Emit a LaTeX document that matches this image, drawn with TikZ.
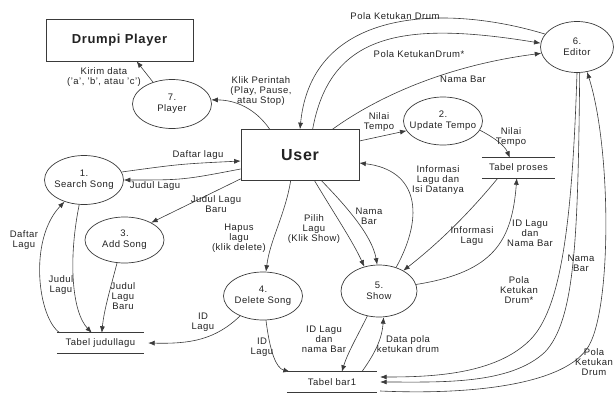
\documentclass[tikz,border=0pt]{standalone}
\usepackage{fontspec}
\setmainfont{Liberation Sans}[LetterSpace=5]
\usetikzlibrary{arrows.meta,shapes.geometric}
\definecolor{ln}{HTML}{3A3A3A}
\definecolor{tx}{HTML}{222222}
\newcommand\dfdfont{\fontsize{9.5}{9.8}\selectfont}
\newcommand\procfont{\fontsize{9.5}{11}\selectfont}
\tikzset{
  proc/.style={ellipse, draw=ln, line width=0.7pt, minimum width=79pt, minimum height=49pt,
    inner xsep=-10pt, inner ysep=-6pt, align=center, text=tx, font=\procfont},
  ext/.style={rectangle, draw=ln, line width=0.7pt, text=tx},
  store/.style={inner sep=0pt, minimum height=20pt, text=tx, font=\dfdfont},
  storeline/.style={draw=ln, line width=0.7pt},
  flow/.style={draw=ln, line width=0.6pt, -{Latex[length=6.5pt,width=5pt]}},
  lab/.style={align=center, inner sep=0pt, text=tx, font=\dfdfont},
}
\begin{document}
\begin{tikzpicture}[x=1pt,y=-1pt]
\useasboundingbox (0,0) rectangle (614,394);

% external entities
\node[ext, minimum width=147pt, minimum height=42pt, font=\bfseries\fontsize{13}{15}\selectfont] (drumpi) at (119.5,40) {Drumpi Player};
\node[ext, minimum width=118pt, minimum height=51pt, font=\bfseries\fontsize{16}{18}\selectfont] (user) at (300,155) {User};

% processes
\node[proc] (p7) at (172,104) {7.\\Player};
\node[proc] (p1) at (84,180) {1.\\Search Song};
\node[proc, minimum height=46pt] (p3) at (124.5,240) {3.\\Add Song};
\node[proc, minimum height=48pt] (p4) at (263,296) {4.\\Delete Song};
\node[proc, minimum width=76pt, minimum height=52pt] (p5) at (379,291) {5.\\Show};
\node[proc, minimum height=48pt] (p2) at (443,121) {2.\\Update Tempo};
\node[proc, minimum width=73pt, minimum height=51pt] (p6) at (577,47) {6.\\Editor};

% data stores
\node[store, minimum width=73pt] (tp) at (518.5,168) {Tabel proses};
\node[store, minimum width=87pt] (jl) at (100.5,343) {Tabel judullagu};
\node[store, minimum width=90pt] (tb) at (332,382) {Tabel bar1};
\foreach \s in {tp,jl,tb}{
  \draw[storeline] (\s.north west) -- (\s.north east) (\s.south west) -- (\s.south east);
}

% flows
\draw[flow] (p7.131) -- ([xshift=91pt]drumpi.south west);
\node[lab] (l1) at (104,77) {Kirim data\\('a', 'b', atau 'c')};

\draw[flow] ([xshift=29pt]user.north west) .. controls (255,108) and (235,100) .. (p7.6);
\node[lab] (l2) at (261,91) {Klik Perintah\\(Play, Pause,\\atau Stop)};

\draw[flow] (p1.12) .. controls (180,164) .. ([yshift=-6pt]user.west);
\node[lab] (l3) at (198,155) {Daftar lagu};

\draw[flow] ([yshift=-14pt]user.west) .. controls (183,180) .. (p1.east);
\node[lab] (l4) at (155,186) {Judul Lagu};

\draw[flow] ([yshift=2pt]user.south west) -- (p3.33);
\node[lab] (l5) at (216,204) {Judul Lagu\\Baru};

\draw[flow] ([xshift=3pt]jl.north west) .. controls (38,318) and (28,240) .. (p1.228);
\node[lab] (l6) at (24,240) {Daftar\\Lagu};

\draw[flow] (p1.259) .. controls (68,260) and (72,312) .. ([xshift=35pt]jl.north west);
\node[lab] (l7) at (61,285) {Judul\\Lagu};

\draw[flow] (p3.252) .. controls (110,290) and (104,310) .. ([xshift=45pt]jl.north west);
\node[lab] (l8) at (123,296) {Judul\\Lagu\\Baru};

\draw[flow] (p4.221) .. controls (215,340) and (190,344) .. ([xshift=4pt]jl.east);
\node[lab] (l9) at (203,322) {ID\\Lagu};

\draw[flow] ([xshift=50pt]user.south west) .. controls (285,215) and (270,240) .. (p4.83);
\node[lab] (l10) at (239,238) {Hapus\\lagu\\(klik delete)};

\draw[flow] ([xshift=74pt]user.south west) .. controls (335,215) and (352,240) .. (p5.121);
\node[lab] (l11) at (314,229) {Pilih\\Lagu\\(Klik Show)};

\draw[flow] ([xshift=81pt]user.south west) .. controls (345,205) and (372,235) .. (p5.94);
\node[lab] (l12) at (369,216) {Nama\\Bar};

\draw[flow] (p5.54) .. controls (425,215) and (418,170) .. ([yshift=-8pt]user.east);
\node[lab] (l13) at (438,180) {Informasi\\Lagu dan\\Isi Datanya};

\draw[flow] ([xshift=16pt]tp.south west) .. controls (470,212) and (440,242) .. (p5.40);
\node[lab] (l14) at (472,236) {Informasi\\Lagu};

\draw[flow] (p5.10) .. controls (495,272) and (512,240) .. ([xshift=35pt]tp.south west);
\node[lab] (l15) at (530,233) {ID Lagu\\dan\\Nama Bar};

\draw[flow] (p2.-14) .. controls (495,138) and (505,146) .. ([xshift=28pt]tp.north west);
\node[lab] (l16) at (511,137) {Nilai\\Tempo};

\draw[flow] ([yshift=14pt]user.east) -- (p2.195);
\node[lab] (l17) at (379,122) {Nilai\\Tempo};

\draw[flow] (p5.245) .. controls (358,335) and (348,352) .. ([xshift=55pt]tb.north west);
\node[lab] (l18) at (324,339) {ID Lagu\\dan\\nama Bar};

\draw[flow] ([xshift=75pt]tb.north west) .. controls (376,352) and (382,338) .. (p5.280);
\node[lab] (l19) at (408,344) {Data pola\\ketukan drum};

\draw[flow] (p4.277) .. controls (270,352) and (276,368) .. ([xshift=3pt]tb.north west);
\node[lab] (l20) at (262,347) {ID\\Lagu};

\draw[flow] (p6.158) .. controls (450,5) and (312,5) .. (user.north);
\node[lab] (l21) at (395,16) {Pola Ketukan Drum};

\draw[flow] ([xshift=72pt]user.north west) .. controls (330,35) and (400,20) .. (p6.174);
\node[lab] (l22) at (419,54) {Pola KetukanDrum*};

\draw[flow] ([xshift=92pt]user.north west) .. controls (380,95) and (450,65) .. (p6.190);
\node[lab] (l23) at (463,79) {Nama Bar};

\draw[flow] (p6.270) .. controls (572,230) and (560,310) .. (530,340) .. controls (495,375) and (430,377) .. ([xshift=3pt,yshift=5pt]tb.east);
\node[lab] (l24) at (519,290) {Pola\\Ketukan\\Drum*};

\draw[flow] (p6.276) .. controls (578,240) and (575,320) .. (545,352) .. controls (510,385) and (440,382) .. ([xshift=3pt]tb.east);
\node[lab] (l25) at (581,263) {Nama\\Bar};

\draw[flow] ([xshift=3pt,yshift=-9pt]tb.east) .. controls (470,395) and (560,385) .. (586,350) .. controls (612,318) and (612,150) .. (p6.292);
\node[lab] (l26) at (594,362) {Pola\\Ketukan\\Drum};
\end{tikzpicture}
\end{document}
